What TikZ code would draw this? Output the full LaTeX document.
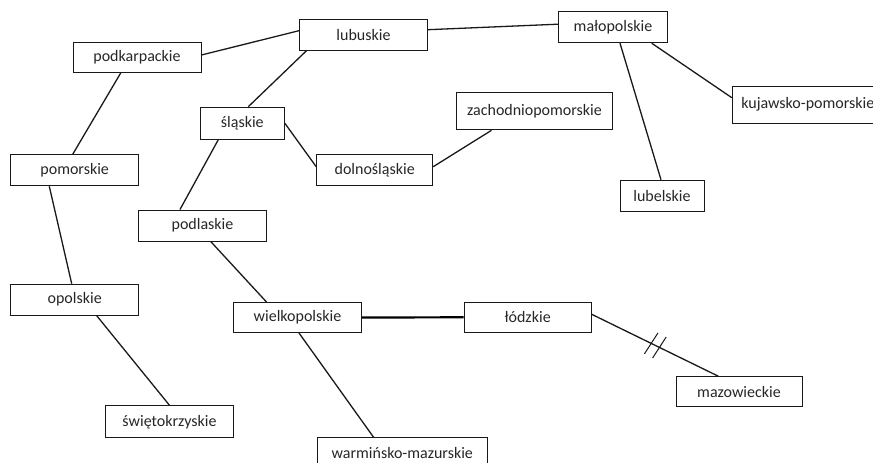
\documentclass[tikz,border=0pt]{standalone}
\usepackage{fontspec}
\setmainfont{Carlito}
\usetikzlibrary{calc}
\begin{document}
\begin{tikzpicture}[x=1pt,y=-1pt,
  box/.style={draw=black!90, line width=1pt, inner sep=0pt, font=\fontsize{16}{19}\selectfont, text=black!85},
  edge/.style={draw=black!90, line width=1.3pt},
  thickedge/.style={draw=black, line width=2.2pt}]
\useasboundingbox (0,0) rectangle (873,463);
\clip (0,0) rectangle (873,463);
\node[box, minimum width=128, minimum height=30] (podk) at (137,57) {podkarpackie};
\node[box, minimum width=128, minimum height=31] (lub) at (363.5,34.7) {lubuskie};
\node[box, minimum width=109, minimum height=31] (mal) at (613,27.2) {małopolskie};
\node[box, minimum width=84, minimum height=32] (slask) at (242.3,123.2) {śląskie};
\node[box, minimum width=156, minimum height=37] (zach) at (534.5,111.3) {zachodniopomorskie};
\node[box, minimum width=151, minimum height=37.3] (kuj) at (807.8,104.7) {kujawsko-pomorskie};
\node[box, minimum width=128, minimum height=31] (pom) at (74.7,170.3) {pomorskie};
\node[box, minimum width=116, minimum height=31] (dolno) at (374.7,170.3) {dolnośląskie};
\node[box, minimum width=84, minimum height=31] (lubel) at (662,195.7) {lubelskie};
\node[box, minimum width=128, minimum height=31] (podl) at (202.5,225.5) {podlaskie};
\node[box, minimum width=128, minimum height=31] (opol) at (74.7,299.7) {opolskie};
\node[box, minimum width=128, minimum height=30] (wielk) at (297.5,317.5) {wielkopolskie};
\node[box, minimum width=127, minimum height=30] (lodz) at (527.7,317.3) {łódzkie};
\node[box, minimum width=126, minimum height=30] (mazow) at (739,391.7) {mazowieckie};
\node[box, minimum width=128, minimum height=32] (swiet) at (169.5,421.8) {świętokrzyskie};
\node[box, minimum width=170, minimum height=31.3] (warm) at (402.3,453.3) {warmińsko-mazurskie};

\draw[edge] ($(podk.east)+(0,-2)$) -- ($(lub.west)+(0,-4)$);
\draw[edge] ($(lub.east)+(0,-5)$) -- ($(mal.west)+(0,-3)$);
\draw[edge] ($(lub.south)+(-57,0)$) -- ($(slask.north)+(6,0)$);
\draw[edge] ($(podk.south)+(-16,0)$) -- ($(pom.north)+(-2,0)$);
\draw[edge] (slask.east) -- ($(dolno.west)+(0,-3.6)$);
\draw[edge] ($(slask.south)+(-24,0)$) -- ($(podl.north)+(-22.5,0)$);
\draw[edge] ($(dolno.east)+(0,-3.6)$) -- ($(zach.south)+(-43,0)$);
\draw[edge] ($(mal.south)+(7,0)$) -- ($(lubel.north)+(-1,0)$);
\draw[edge] ($(mal.south)+(38.7,0)$) -- ($(kuj.west)+(0,-7)$);
\draw[edge] ($(pom.south)+(-25.4,0)$) -- ($(opol.north)+(-3,0)$);
\draw[edge] ($(opol.south)+(22,0)$) -- (swiet.north);
\draw[edge] ($(podl.south)+(8.2,0)$) -- ($(wielk.north)+(-31,0)$);
\draw[edge] ($(wielk.south)+(1.5,0)$) -- ($(warm.north west)+(56.7,0)$);
\draw[thickedge] (wielk.east) -- (lodz.west);
\coordinate (lA) at ($(lodz.east)+(0,-3)$);
\coordinate (mB) at ($(mazow.north)+(-20.7,0)$);
\draw[edge] (lA) -- (mB);
\coordinate (s1) at ($(lA)!0.47!(mB)$);
\coordinate (s2) at ($(lA)!0.535!(mB)$);
\draw[draw=black!90, line width=1pt] ($(s1)+(-6.8,10.5)$) -- ($(s1)+(6.8,-10.5)$);
\draw[draw=black!90, line width=1pt] ($(s2)+(-6.8,10.5)$) -- ($(s2)+(6.8,-10.5)$);
\end{tikzpicture}
\end{document}
